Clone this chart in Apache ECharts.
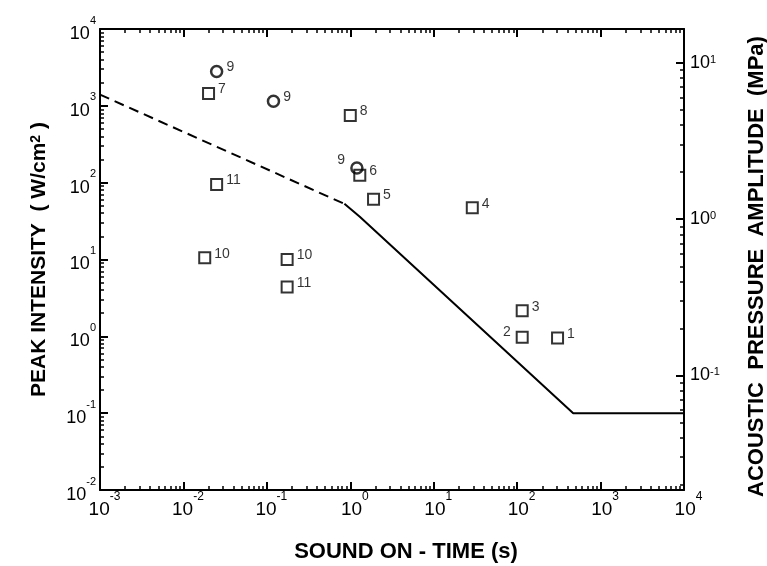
<!DOCTYPE html>
<html>
<head>
<meta charset="utf-8">
<script src="https://cdn.jsdelivr.net/npm/echarts@6/dist/echarts.min.js"></script>
<style>
html, body { margin: 0; padding: 0; background: #fff; }
#chart { width: 767px; height: 566px; }
</style>
</head>
<body>
<div id="chart"></div>
<script>
// sound on-time (s) and peak intensity (W/cm2)
var squareTime = [0.02, 1.0, 1.3, 1.9, 29, 0.025, 0.018, 0.175, 0.175, 115, 115, 305];
var squareIntensity = [1450, 750, 125, 61, 47, 95, 10.5, 10, 4.4, 2.15, 0.97, 0.95];
var squareTags = ['7', '8', '6', '5', '4', '11', '10', '10', '11', '3', '2', '1'];

var circleTime = [0.025, 0.12, 1.2];
var circleIntensity = [2800, 1150, 155];
var circleTags = ['9', '9', '9'];

// threshold curve
var dashedTime = [0.001, 0.85];
var dashedIntensity = [1400, 53];
var solidTime = [0.85, 1.3, 470, 10000];
var solidIntensity = [53, 36, 0.1, 0.1];

// axis decades (tick labels are 10^n)
var timeDecades = [-3, -2, -1, 0, 1, 2, 3, 4];
var intensityDecades = [-2, -1, 0, 1, 2, 3, 4];
var pressureDecades = [-1, 0, 1];
var pressureRange = [0.0185, 16.5];

// which markers carry their number on the left
var squareLeftTags = [10];
var circleLeftTags = [2];

var FONT = "'Liberation Sans', Arial, Helvetica, sans-serif";

function majors(decs) {
    return decs.map(function (e) { return Math.pow(10, e); });
}
function minors(lo, hi) {
    var out = [];
    for (var e = Math.floor(Math.log10(lo)); e <= Math.ceil(Math.log10(hi)); e++) {
        for (var k = 2; k <= 9; k++) {
            var v = k * Math.pow(10, e);
            if (v > lo && v < hi) out.push(v);
        }
    }
    return out;
}
function pow10Label(v) {
    return '{b|10}{s|' + Math.round(Math.log10(v)) + '}';
}
function zip(a, b) {
    return a.map(function (x, i) { return [x, b[i]]; });
}

var tMin = Math.pow(10, timeDecades[0]), tMax = Math.pow(10, timeDecades[timeDecades.length - 1]);
var iMin = Math.pow(10, intensityDecades[0]), iMax = Math.pow(10, intensityDecades[intensityDecades.length - 1]);

var black = '#000';

function tickAxis(pos, min, max, values, len, width, line) {
    return {
        type: 'log', logBase: 10, position: pos, min: min, max: max,
        axisLine: { show: line, onZero: false, lineStyle: { color: black, width: 2 } },
        axisTick: { show: true, inside: true, length: len, customValues: values, lineStyle: { color: black, width: width } },
        axisLabel: { show: false },
        splitLine: { show: false },
        minorTick: { show: false }
    };
}

var xMain = tickAxis('bottom', tMin, tMax, majors(timeDecades), 8, 2, true);
xMain.axisLabel = {
    show: true, customValues: majors(timeDecades), margin: 1,
    formatter: pow10Label,
    rich: {
        b: { fontFamily: FONT, fontSize: 19, color: black, padding: [9, 0, 0, 9] },
        s: { fontFamily: FONT, fontSize: 12, color: black, verticalAlign: 'top' }
    }
};
xMain.name = 'SOUND ON - TIME (s)';
xMain.nameLocation = 'middle';
xMain.nameGap = 51;
xMain.nameTextStyle = { fontFamily: FONT, fontSize: 22, fontWeight: 'bold', color: black, padding: [0, 0, 0, 28] };

var yMain = tickAxis('left', iMin, iMax, majors(intensityDecades), 8, 2, true);
yMain.axisLabel = {
    show: true, customValues: majors(intensityDecades), margin: 4,
    formatter: pow10Label,
    rich: {
        b: { fontFamily: FONT, fontSize: 18, color: black, padding: [10, 0, 0, 0] },
        s: { fontFamily: FONT, fontSize: 11, color: black, verticalAlign: 'top' }
    }
};
yMain.name = '{t|PEAK INTENSITY  ( W/cm}{u|2}{t| )}';
yMain.nameLocation = 'middle';
yMain.nameRotate = 90;
yMain.nameGap = 50;
yMain.nameTextStyle = {
    rich: {
        t: { fontFamily: FONT, fontSize: 21, fontWeight: 'bold', color: black },
        u: { fontFamily: FONT, fontSize: 14, fontWeight: 'bold', color: black, verticalAlign: 'top' }
    }
};

var yPressure = tickAxis('right', pressureRange[0], pressureRange[1], majors(pressureDecades), 8, 2, true);
yPressure.axisLabel = {
    show: true, customValues: majors(pressureDecades), margin: 6,
    formatter: pow10Label,
    rich: {
        b: { fontFamily: FONT, fontSize: 18, color: black },
        s: { fontFamily: FONT, fontSize: 11, color: black, verticalAlign: 'top' }
    }
};
yPressure.name = 'ACOUSTIC  PRESSURE  AMPLITUDE  (MPa)';
yPressure.nameLocation = 'middle';
yPressure.nameRotate = 90;
yPressure.nameGap = 62;
yPressure.nameTextStyle = { fontFamily: FONT, fontSize: 22, fontWeight: 'bold', color: black, padding: [0, 14, 0, 0] };

function tagLabel(leftSide, offset) {
    return {
        show: true, formatter: '{b}', color: black, fontFamily: FONT, fontSize: 14,
        position: leftSide ? 'left' : 'right', distance: 3, offset: offset
    };
}

var squareData = squareTime.map(function (t, i) {
    var left = squareLeftTags.indexOf(i) >= 0;
    return { name: squareTags[i], value: [t, squareIntensity[i]], label: tagLabel(left, left ? [-2, -5] : [0, -4]) };
});
var circleData = circleTime.map(function (t, i) {
    var left = circleLeftTags.indexOf(i) >= 0;
    return { name: circleTags[i], value: [t, circleIntensity[i]], label: tagLabel(left, left ? [-2, -8] : [0, -4]) };
});

var chart = echarts.init(document.getElementById('chart'));
chart.setOption({
    animation: false,
    backgroundColor: '#fff',
    grid: { left: 100, right: 83, top: 29, bottom: 76, containLabel: false, outerBoundsMode: 'none' },
    xAxis: [
        xMain,
        tickAxis('bottom', tMin, tMax, minors(tMin, tMax), 4, 1.5, false),
        tickAxis('top', tMin, tMax, majors(timeDecades), 8, 2, true),
        tickAxis('top', tMin, tMax, minors(tMin, tMax), 4, 1.5, false)
    ],
    yAxis: [
        yMain,
        tickAxis('left', iMin, iMax, minors(iMin, iMax), 4, 1.5, false),
        yPressure,
        tickAxis('right', pressureRange[0], pressureRange[1], minors(pressureRange[0], pressureRange[1]), 4, 1.5, false)
    ],
    series: [
        {
            type: 'line', xAxisIndex: 0, yAxisIndex: 0, symbol: 'none', silent: true,
            data: zip(dashedTime, dashedIntensity),
            lineStyle: { color: black, width: 2, type: [10, 6] }
        },
        {
            type: 'line', xAxisIndex: 0, yAxisIndex: 0, symbol: 'none', silent: true,
            data: zip(solidTime, solidIntensity),
            lineStyle: { color: black, width: 2 }
        },
        {
            type: 'scatter', xAxisIndex: 0, yAxisIndex: 0, symbol: 'rect', symbolSize: 11,
            itemStyle: { color: 'rgba(0,0,0,0)', borderColor: black, borderWidth: 2 },
            data: squareData
        },
        {
            type: 'scatter', xAxisIndex: 0, yAxisIndex: 0, symbol: 'circle', symbolSize: 11,
            itemStyle: { color: 'rgba(0,0,0,0)', borderColor: black, borderWidth: 2.5 },
            data: circleData
        }
    ]
});
</script>
</body>
</html>
